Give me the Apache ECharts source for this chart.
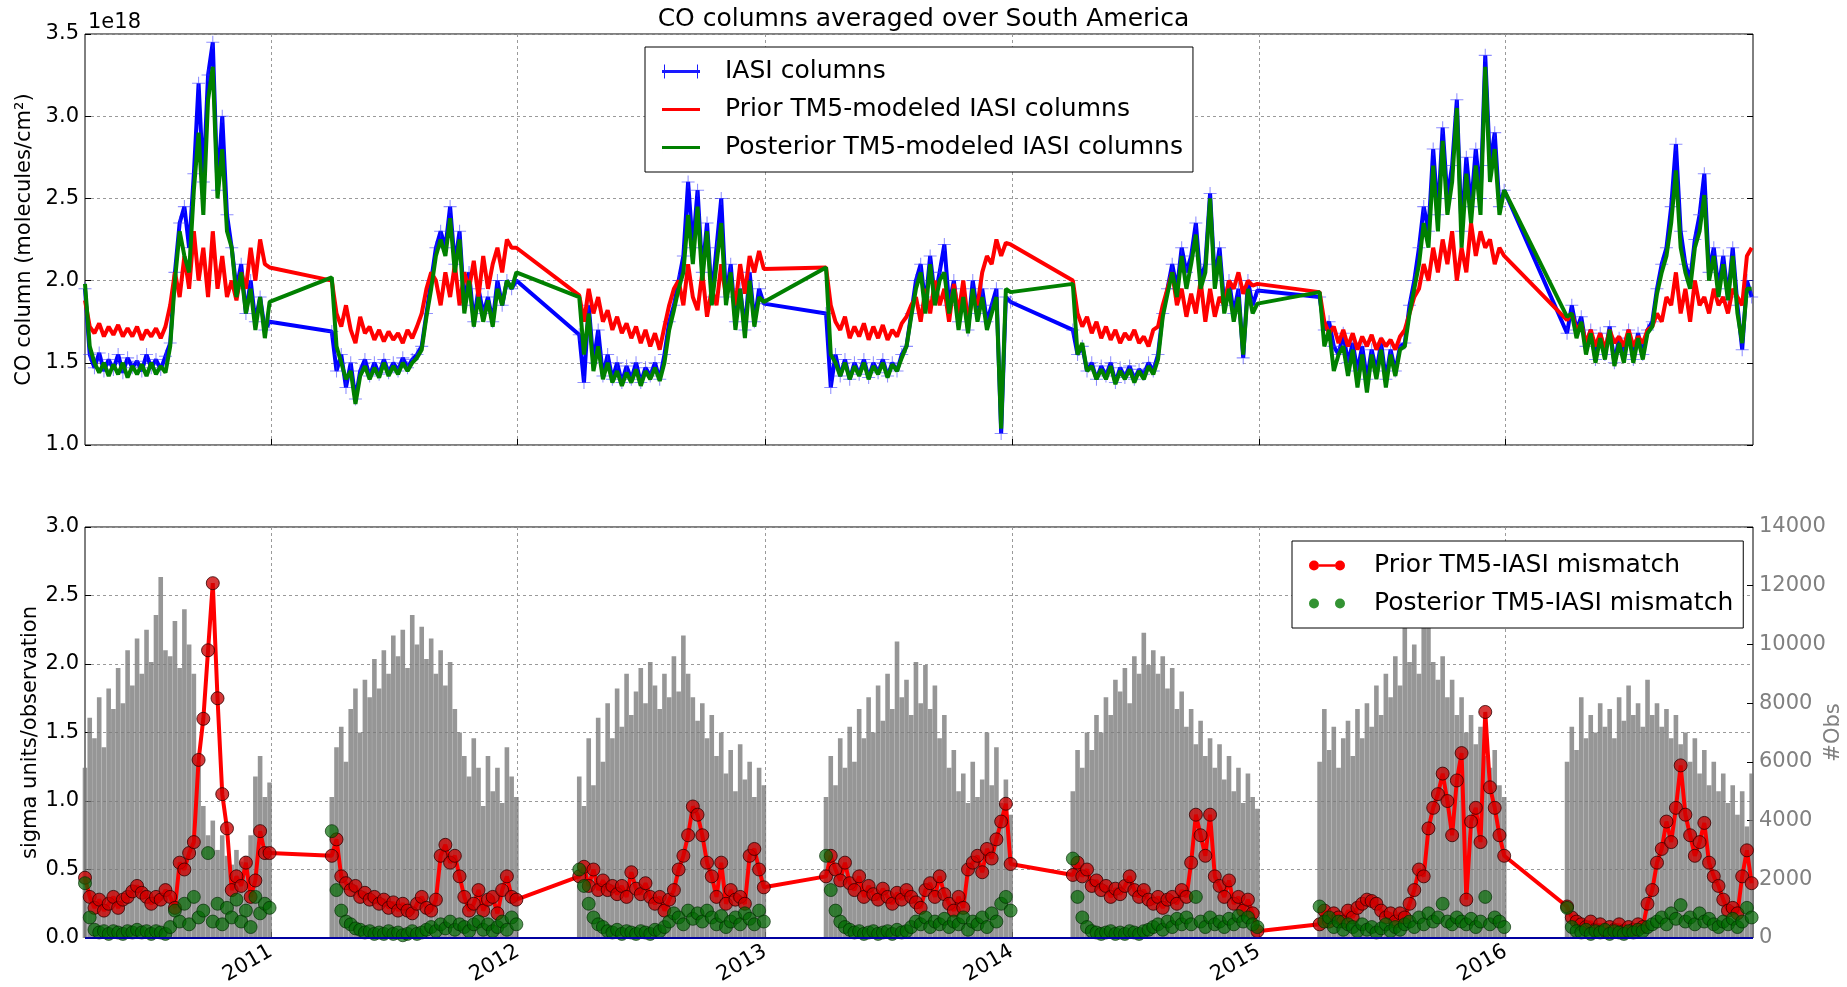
<!DOCTYPE html>
<html><head><meta charset="utf-8">
<script src="https://cdn.jsdelivr.net/npm/echarts@6/dist/echarts.min.js"></script>
<style>html,body{margin:0;padding:0;background:#fff}#c{width:1847px;height:987px}</style>
</head><body><div id="c"></div>
<script>
// ---- data (weekly samples, each year's observing season starts 1 April) ----
const segmentYears = [2010, 2011, 2012, 2013, 2014, 2015, 2016];
const stepDays = 7;
const yearTicks = [2011, 2012, 2013, 2014, 2015, 2016];

// CO columns, units of 1e18 molecules/cm2
const iasiColumns = [
  1.95,1.55,1.47,1.56,1.45,1.52,1.46,1.55,1.44,1.53,1.47,1.51,1.45,1.55,1.47,1.52,1.46,1.54,1.62,2.05,2.35,2.45,2.2,2.65,3.2,2.6,3.25,3.45,2.55,3.0,2.4,2.2,1.95,2.1,1.8,2.0,1.75,1.9,1.7,1.75,
  1.69,1.45,1.55,1.35,1.5,1.28,1.45,1.52,1.42,1.5,1.43,1.52,1.44,1.5,1.45,1.53,1.47,1.52,1.55,1.6,1.8,2.0,2.2,2.3,2.2,2.45,2.1,2.3,1.85,2.05,1.75,1.95,1.8,1.9,1.75,2.0,1.85,2.0,1.95,2.0,
  1.67,1.38,1.85,1.5,1.7,1.42,1.55,1.4,1.5,1.38,1.48,1.4,1.5,1.38,1.47,1.42,1.5,1.4,1.55,1.75,1.85,2.0,2.15,2.6,2.2,2.55,2.05,2.35,1.9,2.2,2.5,1.9,2.1,1.75,1.95,1.7,2.05,1.75,1.95,1.86,
  1.8,1.35,1.55,1.42,1.52,1.4,1.5,1.43,1.52,1.41,1.5,1.44,1.52,1.42,1.5,1.45,1.55,1.6,1.8,2.0,2.1,1.85,2.15,1.9,2.05,2.22,1.85,2.0,1.75,1.95,1.7,2.0,1.8,1.95,1.75,1.85,1.95,1.07,1.9,1.87,
  1.7,1.55,1.6,1.45,1.5,1.4,1.48,1.42,1.5,1.38,1.47,1.41,1.48,1.4,1.46,1.43,1.5,1.45,1.55,1.8,1.95,2.1,1.95,2.2,2.05,2.15,2.35,2.0,2.1,2.53,2.0,2.2,1.85,2.0,1.8,1.95,1.53,2.0,1.85,1.94,
  1.9,1.7,1.75,1.6,1.55,1.68,1.5,1.62,1.45,1.6,1.4,1.58,1.45,1.62,1.4,1.58,1.45,1.6,1.62,1.85,2.0,2.2,2.45,2.3,2.8,2.4,2.93,2.5,2.7,3.1,2.3,2.75,2.45,2.8,2.5,3.37,2.7,2.9,2.45,2.55,
  1.68,1.85,1.7,1.78,1.6,1.7,1.52,1.68,1.55,1.72,1.5,1.65,1.55,1.7,1.52,1.68,1.55,1.7,1.75,1.95,2.1,2.2,2.45,2.83,2.3,2.1,2.0,2.25,2.4,2.65,2.05,2.2,1.95,2.15,1.9,2.2,1.85,1.58,2.0,1.9
];
const priorColumns = [
  1.88,1.72,1.68,1.74,1.66,1.72,1.67,1.73,1.66,1.71,1.66,1.72,1.64,1.70,1.66,1.71,1.65,1.72,1.85,2.05,1.9,2.15,1.95,2.3,2.0,2.2,1.9,2.3,1.95,2.15,1.9,2.0,1.88,2.05,1.95,2.2,2.0,2.25,2.1,2.08,
  2.0,1.8,1.72,1.85,1.7,1.62,1.78,1.68,1.72,1.64,1.7,1.63,1.69,1.64,1.68,1.62,1.7,1.65,1.72,1.8,1.95,2.05,2.0,1.85,2.05,1.9,2.1,1.85,2.05,1.95,2.12,1.9,2.15,1.95,2.1,2.2,2.05,2.25,2.2,2.2,
  1.91,1.75,1.95,1.8,1.9,1.75,1.82,1.7,1.78,1.68,1.74,1.65,1.72,1.62,1.7,1.6,1.68,1.58,1.72,1.85,1.95,2.0,1.85,2.1,1.9,1.82,2.05,1.78,1.95,1.85,2.1,1.9,2.0,1.85,2.1,1.92,2.15,2.05,2.18,2.07,
  2.08,1.85,1.75,1.7,1.78,1.65,1.72,1.66,1.74,1.64,1.72,1.65,1.73,1.64,1.7,1.66,1.74,1.78,1.85,1.9,1.75,1.95,1.8,2.0,1.85,1.95,1.75,1.98,1.8,2.0,1.75,1.9,1.85,2.05,2.15,2.1,2.25,2.15,2.23,2.22,
  2.0,1.8,1.72,1.78,1.68,1.75,1.65,1.72,1.64,1.7,1.62,1.68,1.64,1.7,1.62,1.66,1.6,1.7,1.72,1.85,1.95,2.05,1.85,1.95,1.78,1.92,1.8,2.0,1.75,1.95,1.78,1.9,1.85,2.0,1.95,2.05,1.92,2.0,1.97,1.98,
  1.93,1.75,1.68,1.72,1.62,1.7,1.6,1.68,1.58,1.66,1.6,1.67,1.58,1.65,1.6,1.64,1.58,1.66,1.7,1.8,1.9,1.95,2.1,2.0,2.2,2.05,2.25,2.1,2.3,2.0,2.2,2.05,2.35,2.15,2.3,2.2,2.25,2.1,2.2,2.15,
  1.76,1.8,1.7,1.74,1.62,1.7,1.6,1.68,1.58,1.7,1.62,1.66,1.6,1.7,1.6,1.66,1.62,1.7,1.72,1.8,1.75,1.9,1.85,2.05,1.8,1.95,1.75,2.0,1.85,1.9,1.8,1.95,1.85,1.9,1.8,1.95,1.9,1.85,2.15,2.2
];
const posteriorColumns = [
  1.98,1.6,1.5,1.44,1.5,1.42,1.49,1.43,1.5,1.41,1.48,1.43,1.49,1.42,1.5,1.43,1.48,1.44,1.6,2.0,2.3,2.15,2.05,2.55,2.9,2.4,3.1,3.3,2.5,2.8,2.3,2.2,1.9,2.05,1.8,1.95,1.7,1.9,1.65,1.87,
  2.02,1.6,1.5,1.4,1.45,1.25,1.42,1.48,1.4,1.47,1.41,1.5,1.42,1.48,1.43,1.5,1.45,1.5,1.53,1.58,1.78,1.95,2.15,2.25,2.15,2.38,2.05,2.25,1.8,2.0,1.72,1.9,1.75,1.88,1.72,1.95,1.85,2.0,1.95,2.05,
  1.9,1.55,1.8,1.45,1.6,1.4,1.5,1.38,1.45,1.36,1.44,1.38,1.46,1.36,1.45,1.4,1.47,1.39,1.5,1.7,1.82,1.95,2.05,2.4,2.1,2.45,2.0,2.3,1.85,2.1,2.35,1.85,2.05,1.7,1.95,1.65,2.0,1.72,1.9,1.87,
  2.08,1.55,1.5,1.42,1.5,1.4,1.48,1.42,1.5,1.4,1.48,1.43,1.5,1.41,1.49,1.45,1.53,1.6,1.78,1.95,2.05,1.8,2.1,1.85,2.0,2.05,1.8,1.95,1.7,1.9,1.68,1.95,1.75,1.9,1.7,1.8,1.9,1.1,1.95,1.93,
  1.98,1.55,1.62,1.45,1.48,1.4,1.46,1.4,1.48,1.37,1.45,1.4,1.46,1.38,1.45,1.4,1.48,1.43,1.52,1.78,1.92,2.05,1.9,2.15,1.95,2.1,2.28,1.95,2.05,2.5,1.95,2.15,1.8,1.95,1.75,1.9,1.55,1.95,1.8,1.86,
  1.93,1.6,1.7,1.45,1.55,1.6,1.42,1.58,1.35,1.55,1.32,1.55,1.4,1.58,1.35,1.55,1.42,1.58,1.6,1.8,1.95,2.1,2.35,2.2,2.7,2.3,2.85,2.4,2.6,3.05,2.2,2.65,2.35,2.7,2.4,3.3,2.6,2.8,2.4,2.55,
  1.78,1.8,1.65,1.75,1.55,1.68,1.5,1.65,1.52,1.7,1.48,1.62,1.5,1.68,1.5,1.65,1.52,1.68,1.72,1.92,2.05,2.15,2.35,2.67,2.2,2.05,1.95,2.2,2.3,2.52,2.0,2.15,1.9,2.1,1.88,2.15,1.8,1.62,1.95,1.95
];
// number of IASI observations
const obsCount = [
  5800,7500,6800,8200,6500,8500,7800,9200,8000,9800,8600,10200,9000,10500,9400,11000,12300,9800,9600,10800,9200,11200,10000,9000,6000,4500,3500,4000,3000,3500,2800,2500,3000,2600,2800,3500,5500,6200,4800,5300,
  4800,6500,7200,6000,7800,8500,7000,8800,8200,9500,8500,9800,9000,10300,9600,10500,9200,11000,10000,10600,9500,10200,9000,9800,8600,9400,7800,7000,6200,5500,6800,5800,4500,6200,5000,5800,4600,6500,5500,4800,
  5500,4500,6800,5200,7500,6000,8000,6800,8500,7200,9000,7600,8400,9200,8000,9400,8600,7800,9000,8200,9600,8400,10300,9000,8200,7400,8000,6800,7600,6200,7000,5600,6400,5000,6600,5400,6000,4800,5800,5200,
  4800,6200,5200,6800,5800,7200,6000,7800,6800,8200,7000,8600,7400,9000,7800,10100,8200,8800,7600,9400,8000,9300,7800,8600,6800,7600,5800,6400,5000,5600,4600,6000,4800,5400,7000,5200,6500,4600,5400,4200,
  5000,6400,5800,7000,6400,7600,7000,8200,7600,8800,8400,9200,8000,9600,9000,10400,9300,9800,9000,9600,8500,9200,7800,8400,7200,7800,6600,7400,6200,6800,5800,6600,5400,6200,5000,5800,4600,5600,4800,4400,
  6000,7800,6400,7200,5800,6800,7400,6200,7800,6800,8000,7200,8600,7600,9000,8200,9600,8600,10600,9400,10000,9000,10800,11200,9400,8800,9600,8200,8800,7600,8200,7000,7600,6600,7200,6200,5800,6400,5200,4800,
  6000,7200,6400,8200,6800,7600,7000,8000,7200,7800,6800,8200,7400,8600,7600,8000,7200,8800,7600,8000,7200,7800,6800,7600,6600,7000,6000,6800,5600,6400,5200,6000,5000,5600,4600,5200,4200,5000,3800,5600
];
// sigma units per observation
const priorMismatch = [
  0.44,0.3,0.22,0.28,0.2,0.25,0.3,0.22,0.28,0.3,0.34,0.38,0.33,0.3,0.25,0.3,0.28,0.35,0.3,0.22,0.55,0.5,0.62,0.7,1.3,1.6,2.1,2.59,1.75,1.05,0.8,0.35,0.45,0.38,0.55,0.3,0.42,0.78,0.62,0.62,
  0.6,0.72,0.45,0.4,0.35,0.38,0.3,0.33,0.28,0.3,0.25,0.28,0.22,0.26,0.2,0.25,0.2,0.18,0.25,0.3,0.22,0.2,0.28,0.6,0.68,0.55,0.6,0.45,0.3,0.2,0.25,0.35,0.2,0.28,0.3,0.18,0.35,0.45,0.3,0.28,
  0.45,0.52,0.38,0.5,0.35,0.42,0.35,0.38,0.32,0.38,0.3,0.48,0.36,0.32,0.4,0.3,0.25,0.3,0.2,0.28,0.35,0.5,0.6,0.75,0.96,0.9,0.75,0.55,0.45,0.3,0.55,0.25,0.35,0.28,0.3,0.25,0.6,0.65,0.5,0.37,
  0.45,0.6,0.5,0.42,0.55,0.4,0.35,0.45,0.3,0.38,0.32,0.28,0.36,0.3,0.25,0.33,0.28,0.35,0.3,0.26,0.22,0.35,0.4,0.3,0.45,0.32,0.25,0.2,0.3,0.22,0.5,0.55,0.6,0.48,0.65,0.58,0.72,0.85,0.98,0.54,
  0.46,0.55,0.45,0.5,0.38,0.42,0.35,0.38,0.3,0.36,0.32,0.38,0.45,0.35,0.3,0.35,0.28,0.25,0.3,0.22,0.28,0.3,0.25,0.35,0.3,0.55,0.9,0.75,0.6,0.9,0.45,0.38,0.3,0.42,0.25,0.3,0.2,0.28,0.18,0.05,
  0.1,0.2,0.12,0.18,0.15,0.12,0.2,0.15,0.22,0.25,0.28,0.27,0.25,0.2,0.15,0.18,0.12,0.18,0.15,0.25,0.35,0.5,0.45,0.8,0.95,1.05,1.2,1.0,0.75,1.15,1.35,0.28,0.85,0.95,0.7,1.65,1.1,0.95,0.75,0.6,
  0.23,0.15,0.12,0.1,0.08,0.12,0.06,0.1,0.05,0.08,0.06,0.1,0.05,0.08,0.06,0.1,0.08,0.25,0.35,0.55,0.65,0.85,0.7,0.95,1.26,0.9,0.75,0.6,0.7,0.84,0.55,0.45,0.38,0.28,0.2,0.22,0.18,0.45,0.64,0.4
];
const posteriorMismatch = [
  0.4,0.15,0.06,0.04,0.05,0.03,0.05,0.04,0.03,0.05,0.04,0.06,0.04,0.05,0.03,0.05,0.04,0.03,0.08,0.2,0.12,0.25,0.1,0.3,0.15,0.2,0.62,0.12,0.25,0.1,0.22,0.15,0.28,0.12,0.2,0.08,0.3,0.18,0.25,0.22,
  0.78,0.35,0.2,0.12,0.1,0.07,0.06,0.04,0.05,0.03,0.04,0.03,0.05,0.03,0.04,0.02,0.03,0.05,0.03,0.04,0.06,0.08,0.05,0.1,0.07,0.12,0.06,0.1,0.08,0.05,0.1,0.12,0.06,0.1,0.05,0.08,0.12,0.06,0.15,0.1,
  0.5,0.38,0.25,0.15,0.1,0.08,0.05,0.04,0.06,0.03,0.05,0.04,0.03,0.05,0.04,0.03,0.06,0.05,0.08,0.12,0.18,0.15,0.1,0.2,0.14,0.18,0.12,0.2,0.15,0.1,0.16,0.08,0.12,0.15,0.1,0.18,0.14,0.1,0.2,0.12,
  0.6,0.35,0.2,0.12,0.08,0.06,0.04,0.05,0.03,0.04,0.05,0.03,0.04,0.05,0.03,0.06,0.04,0.05,0.08,0.12,0.1,0.15,0.08,0.12,0.1,0.14,0.08,0.12,0.1,0.15,0.06,0.12,0.1,0.15,0.08,0.18,0.12,0.25,0.3,0.2,
  0.58,0.3,0.15,0.08,0.05,0.04,0.03,0.04,0.05,0.03,0.04,0.03,0.05,0.04,0.03,0.05,0.06,0.08,0.1,0.06,0.12,0.08,0.14,0.1,0.15,0.1,0.3,0.12,0.08,0.15,0.1,0.12,0.08,0.14,0.1,0.16,0.12,0.15,0.1,0.08,
  0.23,0.12,0.15,0.08,0.12,0.06,0.1,0.08,0.05,0.1,0.06,0.08,0.04,0.07,0.1,0.05,0.08,0.06,0.1,0.12,0.08,0.15,0.1,0.18,0.12,0.15,0.25,0.12,0.1,0.15,0.12,0.1,0.14,0.08,0.12,0.3,0.1,0.15,0.12,0.08,
  0.22,0.08,0.05,0.04,0.06,0.03,0.05,0.04,0.06,0.03,0.05,0.04,0.03,0.05,0.04,0.06,0.05,0.08,0.1,0.12,0.15,0.1,0.18,0.14,0.24,0.12,0.15,0.1,0.18,0.12,0.14,0.1,0.08,0.12,0.1,0.14,0.08,0.12,0.22,0.15
];

// ---- build ----
const DAY = 86400000;
const perSeg = iasiColumns.length / segmentYears.length;
const times = [];
segmentYears.forEach(y => { for (let i = 0; i < perSeg; i++) times.push(Date.UTC(y, 3, 1) + i * stepDays * DAY); });
const pair = arr => arr.map((v, i) => [times[i], v]);
const yearTs = yearTicks.map(y => Date.UTC(y, 0, 1));
const xMin = Date.UTC(2010, 3, 1), xMax = Date.UTC(2017, 0, 1);
const FONT = 'DejaVu Sans';
const TICK_FS = 21, BIG_FS = 25;
const plusPath = 'path://M0,4.6H10V5.4H0Z M4.6,0H5.4V10H4.6Z';
const gridLine = { show: true, lineStyle: { color: '#9a9a9a', type: [3, 3], width: 1 } };
// legend icons (a thin sliver fixes the icon box height)
const iconLine = 'path://M0,0H0.01V14H0Z M0,5.5H38V8.5H0Z';
const iconPlusLine = 'path://M0,5.5H38V8.5H0Z M2,0H3V14H2Z M35,0H36V14H35Z';
const iconDotLine = 'path://M0,0H0.01V14H0Z M10,5.7H26V8.3H10Z M0,7a5,5 0 1,0 10,0a5,5 0 1,0 -10,0Z M26,7a5,5 0 1,0 10,0a5,5 0 1,0 -10,0Z';
const iconTwoDots = 'path://M0,0H0.01V14H0Z M0,7a5,5 0 1,0 10,0a5,5 0 1,0 -10,0Z M26,7a5,5 0 1,0 10,0a5,5 0 1,0 -10,0Z';

function xAx(gi, labels) {
  return {
    type: 'value', gridIndex: gi, min: xMin, max: xMax, scale: true,
    axisLine: { show: false },
    axisTick: { show: true, inside: true, length: 6, customValues: yearTs, lineStyle: { color: '#000' } },
    axisLabel: { show: labels, customValues: yearTs, rotate: 30, margin: 12, fontFamily: FONT, fontSize: TICK_FS, color: '#000',
      formatter: v => String(new Date(v).getUTCFullYear()) },
    splitLine: gridLine
  };
}
function yAx(gi, min, max, step, opts) {
  return Object.assign({
    type: 'value', gridIndex: gi, min: min, max: max, interval: step,
    axisLine: { show: false },
    axisTick: { show: true, inside: true, length: 6, lineStyle: { color: '#000' } },
    axisLabel: { fontFamily: FONT, fontSize: TICK_FS, color: '#000', margin: 6, formatter: v => v.toFixed(1) },
    splitLine: gridLine,
    nameLocation: 'middle', nameRotate: 90, nameMoveOverlap: false,
    nameTextStyle: { fontFamily: FONT, fontSize: TICK_FS, color: '#000' }
  }, opts);
}
const legendBase = {
  orient: 'vertical', padding: [11, 10, 11, 17], itemGap: 11, itemWidth: 38, itemHeight: 14,
  backgroundColor: '#fff', borderColor: '#000', borderWidth: 1, borderRadius: 0,
  textStyle: { fontFamily: FONT, fontSize: BIG_FS, color: '#000', lineHeight: 27, padding: [0, 0, 0, 20] }
};

const chart = echarts.init(document.getElementById('c'), null, { renderer: 'canvas' });
chart.setOption({
  animation: false,
  backgroundColor: '#fff',
  title: [
    { text: 'CO columns averaged over South America', left: 'center', top: 2,
      textStyle: { fontFamily: FONT, fontSize: BIG_FS, fontWeight: 'normal', color: '#000' } },
    { text: '1e18', left: 83, top: 7, textStyle: { fontFamily: FONT, fontSize: TICK_FS, fontWeight: 'normal', color: '#000' } }
  ],
  grid: [
    { left: 85, top: 34, width: 1668, height: 411, show: true, borderColor: '#000', borderWidth: 1,
      backgroundColor: 'transparent', containLabel: false, outerBoundsMode: 'none' },
    { left: 85, top: 527, width: 1668, height: 411, show: true, borderColor: '#000', borderWidth: 1,
      backgroundColor: 'transparent', containLabel: false, outerBoundsMode: 'none' }
  ],
  xAxis: [xAx(0, false), xAx(1, true)],
  yAxis: [
    yAx(0, 1.0, 3.5, 0.5, { name: 'CO column (molecules/cm²)', nameGap: 50 }),
    yAx(1, 0, 3, 0.5, { name: 'sigma units/observation', nameGap: 44 }),
    yAx(1, 0, 14000, 2000, { position: 'right', name: '#Obs', nameGap: 70, splitLine: { show: false },
      axisLabel: { fontFamily: FONT, fontSize: TICK_FS, color: '#808080', margin: 6, formatter: v => String(v) },
      nameTextStyle: { fontFamily: FONT, fontSize: TICK_FS, color: '#808080' } }),
    yAx(0, 1.0, 3.5, 0.5, { position: 'right', splitLine: { show: false }, axisLabel: { show: false } })
  ],
  legend: [
    Object.assign({}, legendBase, { left: 645, top: 47,
      data: [
        { name: 'IASI columns', icon: iconPlusLine, itemStyle: { color: '#1a1aff' } },
        { name: 'Prior TM5-modeled IASI columns', icon: iconLine, itemStyle: { color: '#ff0000' } },
        { name: 'Posterior TM5-modeled IASI columns', icon: iconLine, itemStyle: { color: '#008000' } }
      ] }),
    Object.assign({}, legendBase, { left: 1292, top: 541, itemWidth: 36,
      textStyle: Object.assign({}, legendBase.textStyle, { padding: [0, 0, 0, 24] }),
      data: [
        { name: 'Prior TM5-IASI mismatch', icon: iconDotLine, itemStyle: { color: '#ff0000', borderWidth: 0 } },
        { name: 'Posterior TM5-IASI mismatch', icon: iconTwoDots, itemStyle: { color: '#007800', borderWidth: 0 } }
      ] })
  ],
  series: [
    { name: 'IASI columns', type: 'line', xAxisIndex: 0, yAxisIndex: 0, data: pair(iasiColumns), z: 2,
      color: '#0000ff', lineStyle: { color: '#0000ff', width: 4 },
      symbol: plusPath, symbolSize: 13, showSymbol: true,
      itemStyle: { color: 'rgba(50,50,255,0.55)' } },
    { name: 'Prior TM5-modeled IASI columns', type: 'line', xAxisIndex: 0, yAxisIndex: 0, data: pair(priorColumns), z: 3,
      color: '#ff0000', lineStyle: { color: '#ff0000', width: 4 }, symbol: 'none' },
    { name: 'Posterior TM5-modeled IASI columns', type: 'line', xAxisIndex: 0, yAxisIndex: 0, data: pair(posteriorColumns), z: 4,
      color: '#008000', lineStyle: { color: '#008000', width: 4 }, symbol: 'none' },
    { name: '#Obs', type: 'bar', xAxisIndex: 1, yAxisIndex: 2, data: pair(obsCount), z: 1,
      barWidth: 4.6, itemStyle: { color: 'rgba(120,120,120,0.78)' } },
    { name: 'Prior TM5-IASI mismatch', type: 'line', xAxisIndex: 1, yAxisIndex: 1, data: pair(priorMismatch), z: 3,
      color: '#ff0000', lineStyle: { color: '#ff0000', width: 4 },
      symbol: 'circle', symbolSize: 13, showSymbol: true,
      itemStyle: { color: 'rgba(205,0,0,0.78)', borderColor: 'rgba(50,0,0,0.8)', borderWidth: 1 },
      markLine: { silent: true, symbol: 'none', label: { show: false },
        lineStyle: { color: '#0000a0', width: 2, type: 'solid' }, data: [{ yAxis: 0 }] } },
    { name: 'Posterior TM5-IASI mismatch', type: 'scatter', xAxisIndex: 1, yAxisIndex: 1, data: pair(posteriorMismatch), z: 4,
      color: '#007000', symbolSize: 13,
      itemStyle: { color: 'rgba(0,105,0,0.85)', borderColor: 'rgba(0,40,0,0.8)', borderWidth: 1 } }
  ]
});
</script></body></html>
